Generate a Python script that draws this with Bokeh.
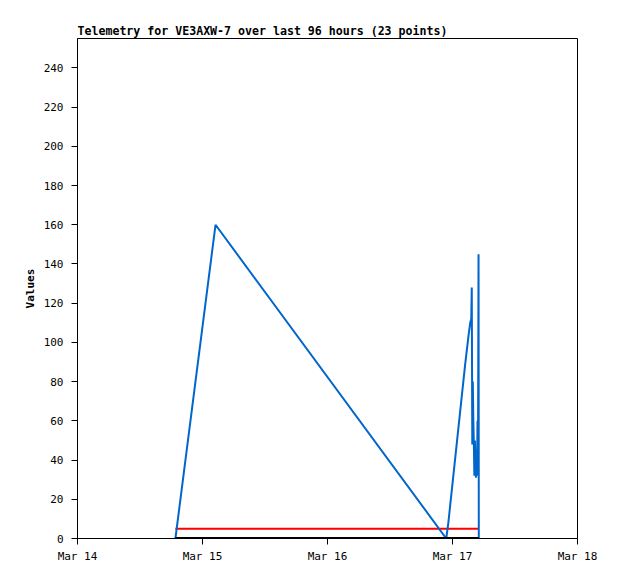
from datetime import datetime, timedelta
from bokeh.plotting import figure
from bokeh.models import FixedTicker, DatetimeTickFormatter, Range1d
from bokeh.embed import file_html
from bokeh.resources import INLINE

base = datetime(2024, 3, 14)
# hours after Mar 14 00:00 (23 points)
hours = [18.8, 26.5, 70.8, 71.2, 74.4, 75.1, 75.4, 75.6, 75.7, 75.8, 75.9,
         76.0, 76.1, 76.2, 76.3, 76.4, 76.5, 76.6, 76.7, 76.8, 76.9, 77.0, 77.05]
values = [0, 160, 0, 8, 88, 104, 110, 112, 128, 48, 80, 60, 48, 32, 50, 40,
          31, 45, 32, 60, 40, 145, 0]
zero_series = [0] * 23
five_series = [5] * 23
x_tick_days = [0, 1, 2, 3, 4]
y_ticks = list(range(0, 241, 20))

times = [base + timedelta(hours=h) for h in hours]

p = figure(width=618, height=576, x_axis_type="datetime",
           output_backend="svg", toolbar_location=None,
           title="Telemetry for VE3AXW-7 over last 96 hours (23 points)",
           min_border_left=77, min_border_right=41,
           min_border_top=38, min_border_bottom=38)
p.x_range = Range1d(base, base + timedelta(days=4))
p.y_range = Range1d(0, 255)

p.line(times, five_series, line_color="#ff0000", line_width=2)
p.line(times, values, line_color="#0066cc", line_width=2)
p.line(times, zero_series, line_color="#000000", line_width=3)

ms = lambda d: (base + timedelta(days=d) - datetime(1970, 1, 1)).total_seconds() * 1000
p.xaxis.ticker = FixedTicker(ticks=[ms(d) for d in x_tick_days])
p.xaxis.formatter = DatetimeTickFormatter(days="%b %d", months="%b %d", hours="%b %d")
p.yaxis.ticker = FixedTicker(ticks=y_ticks)
p.yaxis.axis_label = "Values"

for ax in (p.xaxis[0], p.yaxis[0]):
    ax.major_label_text_font = "DejaVu Sans Mono"
    ax.major_label_text_font_size = "11px"
    ax.major_label_text_color = "black"
    ax.axis_line_color = "black"
    ax.major_tick_line_color = "black"
    ax.minor_tick_line_color = None
    ax.major_tick_out = 6
    ax.major_tick_in = 0
p.yaxis.major_label_standoff = 8
p.yaxis.axis_label_text_font = "DejaVu Sans Mono"
p.yaxis.axis_label_text_font_size = "11px"
p.yaxis.axis_label_text_font_style = "bold"
p.yaxis.axis_label_text_color = "black"
p.yaxis.axis_label_standoff = 4

p.title.text_font = "DejaVu Sans Mono"
p.title.text_font_size = "11.6px"
p.title.text_font_style = "bold"
p.title.text_color = "black"
p.title.align = "left"
p.title.standoff = 2

p.xgrid.visible = False
p.ygrid.visible = False
p.outline_line_color = "black"
p.outline_line_alpha = 1

open("out.html", "w").write(file_html(p, INLINE))
